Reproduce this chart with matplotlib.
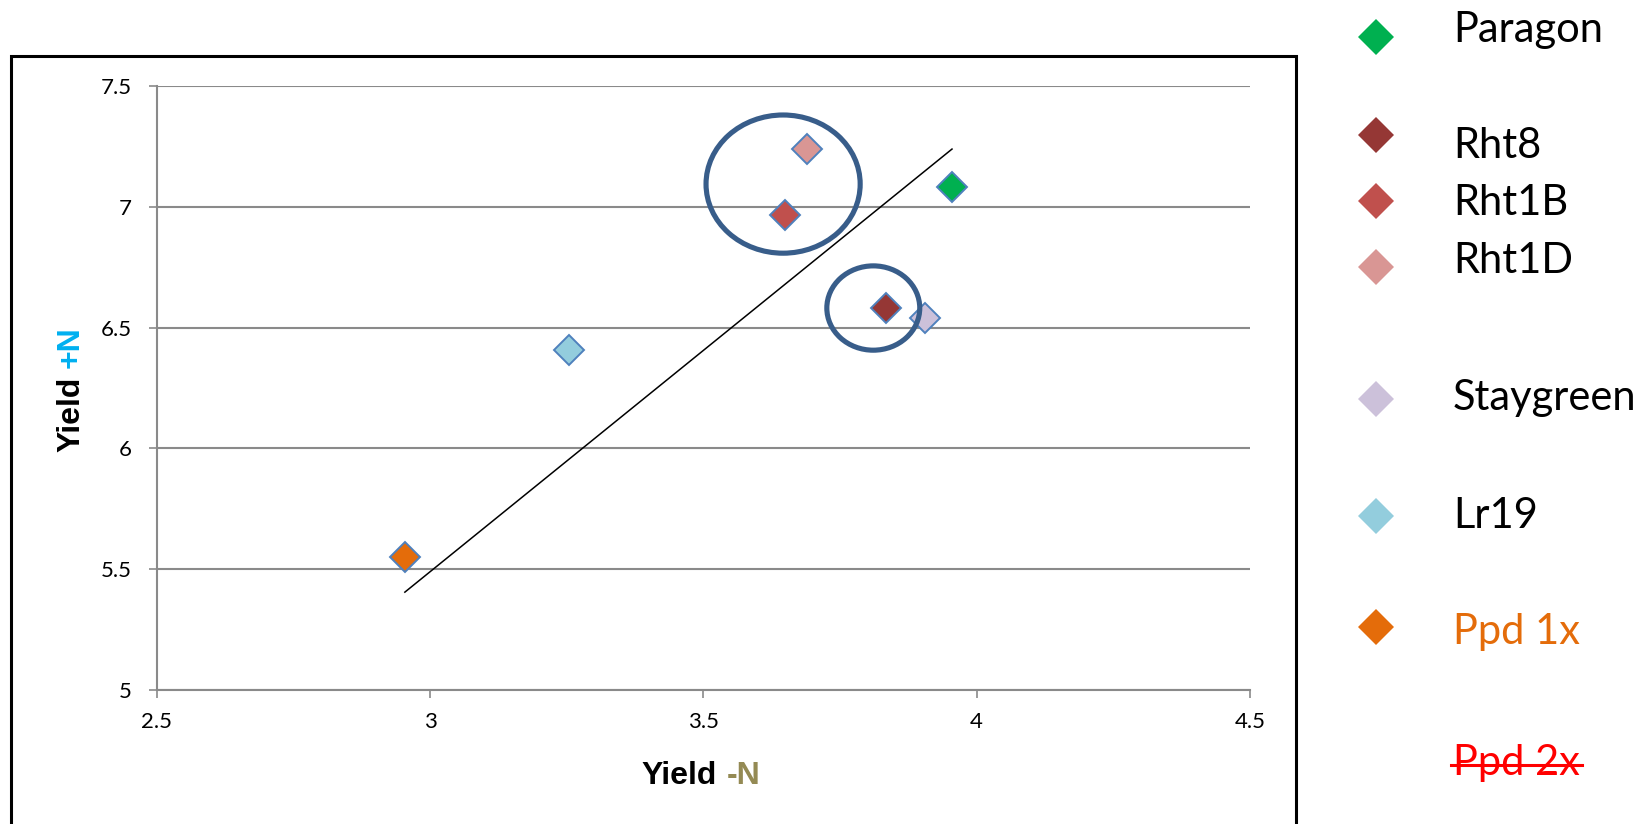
import matplotlib
matplotlib.use("Agg")
import matplotlib.pyplot as plt
from matplotlib.patches import Ellipse, Rectangle
from matplotlib.lines import Line2D

# data
names = ['Paragon', 'Rht8', 'Rht1B', 'Rht1D', 'Staygreen', 'Lr19', 'Ppd 1x']
yield_minus_n = [3.955, 3.835, 3.650, 3.690, 3.905, 3.255, 2.954]
yield_plus_n = [7.080, 6.580, 6.966, 7.238, 6.540, 6.409, 5.550]
colors = ['#00B050', '#953735', '#C0504D', '#D99694', '#CCC1DA', '#93CDDD', '#E46C0A']

# hand drawn trend line and the two highlight ellipses (data units)
trend_x = [2.954, 3.955]
trend_y = [5.405, 7.239]
ellipses = [  # (center x, center y, width, height)
    (3.646, 7.094, 0.282, 0.572),
    (3.811, 6.581, 0.170, 0.349),
]

x_ticks = [2.5, 3, 3.5, 4, 4.5]
y_ticks = [5, 5.5, 6, 6.5, 7, 7.5]

W, H = 1647, 824
fig = plt.figure(figsize=(W / 100, H / 100), dpi=100)
fig.patch.set_facecolor('white')

def fx(px):
    return px / W

def fy(py):
    return 1 - py / H

ax = fig.add_axes([fx(156.7), fy(690), fx(1249.9) - fx(156.7), fy(86) - fy(690)])

grid_col = '#8A8A8A'
ax.set_xlim(2.5, 4.5)
ax.set_ylim(5, 7.5)
ax.set_xticks(x_ticks)
ax.set_yticks(y_ticks)
ax.set_xticklabels([f'{v:g}' for v in x_ticks])
ax.set_yticklabels([f'{v:g}' for v in y_ticks])
for s in ['top', 'right']:
    ax.spines[s].set_visible(False)
for s in ['left', 'bottom']:
    ax.spines[s].set_color(grid_col)
    ax.spines[s].set_linewidth(1.5)
ax.yaxis.grid(True, color=grid_col, linewidth=1.5)
ax.set_axisbelow(True)
ax.tick_params(axis='both', direction='out', length=6, width=1.2, color=grid_col,
               labelsize=16, labelcolor='black')
ax.tick_params(axis='y', pad=12)
ax.tick_params(axis='x', pad=10)
for lab in ax.get_xticklabels() + ax.get_yticklabels():
    lab.set_family('Lato')

ax.plot(trend_x, trend_y, color='black', linewidth=1.1, zorder=2)

for xv, yv, c in zip(yield_minus_n, yield_plus_n, colors):
    ax.plot(xv, yv, marker='D', markersize=15.5, markerfacecolor=c,
            markeredgecolor='#4F81BD', markeredgewidth=1.4, linestyle='none', zorder=3)

for cx, cy, w, h in ellipses:
    ax.add_patch(Ellipse((cx, cy), w, h, fill=False, edgecolor='#385D8A',
                         linewidth=3.7, zorder=4))

# axis titles with coloured N parts
lab_font = dict(family='Liberation Sans', weight='bold', size=23)
fig.text(fx(717), fy(784), 'Yield', ha='right', va='baseline', color='black', **lab_font)
fig.text(fx(727), fy(784), '-N', ha='left', va='baseline', color='#948A54', **lab_font)
fig.text(fx(71), fy(377), 'Yield', rotation=90, ha='center', va='top', color='black', **lab_font)
fig.text(fx(71), fy(368), '+N', rotation=90, ha='center', va='bottom', color='#00B0F0', **lab_font)

# chart border box (runs off the bottom of the picture)
fig.add_artist(Rectangle((fx(11), fy(840)), fx(1296) - fx(11), fy(55.5) - fy(840),
                         transform=fig.transFigure, fill=False, edgecolor='black',
                         linewidth=2.2, clip_on=False))

# legend, laid out by hand like the original
marker_y = [37, 135.3, 201, 266.7, 399, 515.7, 626.7]
text_base = [41.7, 158, 215, 273, 410, 528, 644]
text_cols = ['black'] * 6 + ['#E46C0A']
for name, c, my, ty, tc in zip(names, colors, marker_y, text_base, text_cols):
    fig.add_artist(Line2D([fx(1376)], [fy(my)], transform=fig.transFigure, marker='D',
                          markersize=18.5, markerfacecolor=c, markeredgecolor=c,
                          markeredgewidth=0, linestyle='none'))
    fig.text(fx(1453), fy(ty), name, ha='left', va='baseline', color=tc,
             family='Lato', size=30)

ppd2 = fig.text(fx(1453), fy(775), 'Ppd 2x', ha='left', va='baseline', color='#FF0000',
                family='Lato', size=30)
fig.canvas.draw()
bb = ppd2.get_window_extent()
strike_y = bb.y0 + (bb.y1 - bb.y0) * 0.44
fig.add_artist(Line2D([bb.x0 - 2, bb.x1 + 2], [strike_y, strike_y], transform=None,
                      color='#FF0000', linewidth=2.2))

fig.savefig('out.png', dpi=100, facecolor='white')
